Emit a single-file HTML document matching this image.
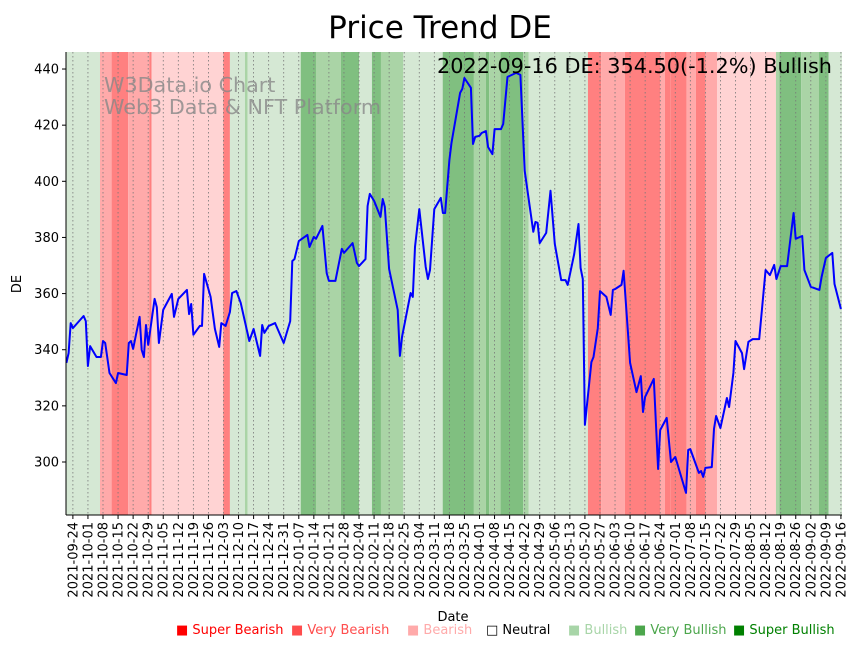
<!DOCTYPE html>
<html><head><meta charset="utf-8"><style>
body{margin:0;background:#fff;font-family:"Liberation Sans","DejaVu Sans",sans-serif;}
svg text{font-family:"DejaVu Sans","Liberation Sans",sans-serif;}
</style></head><body>
<svg id="chart" width="857" height="646" xmlns="http://www.w3.org/2000/svg">
<text x="440" y="38" font-size="31" text-anchor="middle">Price Trend DE</text>
<g id="bands"></g><g id="grid"></g>
<text x="104" y="92" font-size="20.7" fill="#888" fill-opacity="0.8">W3Data.io Chart</text>
<text x="104" y="114" font-size="20.7" fill="#888" fill-opacity="0.8">Web3 Data &amp; NFT Platform</text>
<g id="line"></g><g id="axes"></g>
<text x="832" y="73" font-size="20.8" text-anchor="end">2022-09-16 DE: 354.50(-1.2%) Bullish</text>
<text transform="translate(21,284) rotate(-90)" font-size="13" text-anchor="middle">DE</text>
<text x="453" y="621" font-size="13" text-anchor="middle">Date</text>
<g id="legend"></g>
</svg>
<script>
const dayOffsets=[-3,-2,-1,0,5,6,7,8,11,13,14,15,17,20,21,25,26,27,28,31,32,33,34,35,38,39,40,42,46,47,49,53,54,55,56,59,60,61,64,66,68,69,71,73,74,76,78,82,84,87,88,89,91,94,98,101,102,103,105,109,110,112,113,116,118,119,122,125,126,130,132,133,136,137,138,140,143,144,145,147,151,152,153,157,158,159,161,164,165,166,168,171,172,173,175,176,178,180,181,182,185,186,187,189,190,192,193,195,196,199,200,202,206,208,210,214,215,216,217,220,222,224,227,229,230,233,235,236,237,238,241,242,244,245,248,250,251,252,255,256,259,262,264,265,266,270,272,273,276,278,280,285,286,287,291,292,293,294,297,298,299,301,304,305,307,308,311,312,314,316,319,322,324,326,327,329,332,335,336,339,340,343,347,348,350,353,354,357];
const prices=[335.3,338.8,349.5,347.7,352,350.2,334.2,341.3,337.4,337.4,343.1,342.4,331.7,328.1,331.7,331,342.4,343.1,340.3,351.7,339.9,337.4,348.8,341.7,358.1,355.2,342.4,354.2,359.9,351.7,358.1,361.3,352.7,356.3,345.3,348.5,348.5,367,358.8,347.4,341,349.5,348.5,353.4,360.2,360.9,356.7,343.1,347.4,337.8,348.8,346,348.5,349.5,342.4,350.2,371.6,372.3,378.7,380.9,376.6,380.2,379.5,384.1,367.3,364.5,364.5,375.9,374.5,378,370.9,369.8,372.3,391.2,395.5,393,387.3,393.7,390.9,368.8,354.2,337.8,344.5,360.2,358.8,376.6,390.1,369.5,365.2,368.4,390.1,394.1,388.7,388.7,407.6,413.7,422.6,431.5,432.9,436.8,433.3,413.3,415.8,416.2,417.2,417.9,412.2,409.7,418.6,418.6,420.4,437.2,438.6,437.9,403.7,382,385.5,385.2,378,381.6,396.6,377.7,364.8,364.8,363.1,374.1,384.8,369.1,365.2,313.2,335.6,337.4,347.7,360.9,358.8,352.4,361.3,361.6,363.1,368.1,335.3,324.9,330.6,317.8,323.2,329.6,297.5,311.4,315.7,300,301.8,289,304.3,304.6,296.1,296.8,294.7,297.9,298.2,311.8,316.4,312.1,322.8,319.6,331.7,343.1,338.8,333.1,342.8,343.8,343.8,368.4,366.6,370.2,365.2,369.8,369.8,388.7,379.5,380.5,368.4,362.4,361.3,365.9,372.7,374.5,363.4,354.5];
const bandStarts=[-3.2,12.6,18,25.7,35.5,36.6,69.9,73,80,81.2,105.9,113,115.8,124.6,133,139,143.2,153.6,171.9,186.4,192,193.5,198.8,209.3,211.9,239.4,245.6,256.6,272.9,275.2,277.9,285.3,289.6,294.1,299.4,326.8,328.4,338.5,346.8,351.3];
const bandEnds=[12.6,18,25.7,35.5,36.6,69.9,73,80,81.2,105.9,113,115.8,124.6,133,139,143.2,153.6,171.9,186.4,192,193.5,198.8,209.3,211.9,239.4,245.6,256.6,272.9,275.2,277.9,285.3,289.6,294.1,299.4,326.8,328.4,338.5,346.8,351.3,357.5];
const bandLevels=[1,-2,-3,-2,-3,-1,-3,1,2,1,3,2,2,3,1,3,2,1,3,2,3,2,3,2,1,-3,-2,-3,-2,-3,-3,-2,-3,-2,-1,2,3,2,3,1];
const yTicks=[300,320,340,360,380,400,420,440];
const legendLabels=["Super Bearish","Very Bearish","Bearish","Neutral","Bullish","Very Bullish","Super Bullish"];
const legendColors=["#ff0000","#ff4d4d","#ffaaaa","#000000","#a8d5a8","#4ca64c","#008000"];
const legendX=[176,291,407,486,568,634,733];

const NS="http://www.w3.org/2000/svg";
const X0=66,X1=842,Y0=52,Y1=515;
const dMin=-3.2,dMax=357.5;
const xs=d=>X0+(d-dMin)/(dMax-dMin)*(X1-X0);
const ys=v=>462-(v-300)*2.807;
function mk(tag,attrs,parent){const e=document.createElementNS(NS,tag);for(const k in attrs)e.setAttribute(k,attrs[k]);parent.appendChild(e);return e;}
const bandColor={"1":"#d5e8d4","2":"#aad4a6","3":"#80bf80","-1":"#ffd3d3","-2":"#ffaaaa","-3":"#ff8080"};
const gB=document.getElementById('bands');
for(let i=0;i<bandStarts.length;i++){
  const r=mk('rect',{x:xs(bandStarts[i]),y:Y0,width:Math.max(0,xs(bandEnds[i])-xs(bandStarts[i])),height:Y1-Y0,fill:bandColor[bandLevels[i]]},gB);
  
  
}
const base=new Date(Date.UTC(2021,8,24));
const gG=document.getElementById('grid'),gA=document.getElementById('axes');
for(let w=0;w<=51;w++){
  const d=w*7,x=xs(d);
  mk('line',{x1:x,x2:x,y1:Y0,y2:Y1,stroke:'#777','stroke-width':0.8,'stroke-dasharray':'1.5,2.5'},gG);
  mk('line',{x1:x,x2:x,y1:Y1,y2:Y1+4,stroke:'#000','stroke-width':1},gA);
  const dt=new Date(base.getTime()+d*86400000);
  const s=dt.toISOString().slice(0,10);
  const t=mk('text',{transform:`translate(${x+4.5},${Y1+7}) rotate(-90)`,'font-size':13,'text-anchor':'end'},gA);
  t.textContent=s;
  
  
}
yTicks.forEach(v=>{
  const y=ys(v);
  mk('line',{x1:X0-4,x2:X0,y1:y,y2:y,stroke:'#000'},gA);
  const t=mk('text',{x:X0-7,y:y+4.5,'font-size':13,'text-anchor':'end'},gA);
  t.textContent=v;
  
  
});
mk('line',{x1:X0,x2:X0,y1:Y0,y2:Y1,stroke:'#000'},gA);
mk('line',{x1:X0,x2:X1,y1:Y1,y2:Y1,stroke:'#000'},gA);
const pts=dayOffsets.map((d,i)=>xs(d).toFixed(1)+','+ys(prices[i]).toFixed(1)).join(' ');
const pl=mk('polyline',{points:pts,fill:'none',stroke:'#0000ff','stroke-width':2,'stroke-linejoin':'round'},document.getElementById('line'));


const gL=document.getElementById('legend');
legendLabels.forEach((lab,i)=>{
  const g=mk('g',{},gL);
  
  
  const t=mk('text',{x:legendX[i],y:634,'font-size':13,fill:legendColors[i]},g);
  t.textContent=(i===3?'\u25A1 ':'\u25A0 ')+lab;
});
</script>
</body></html>
